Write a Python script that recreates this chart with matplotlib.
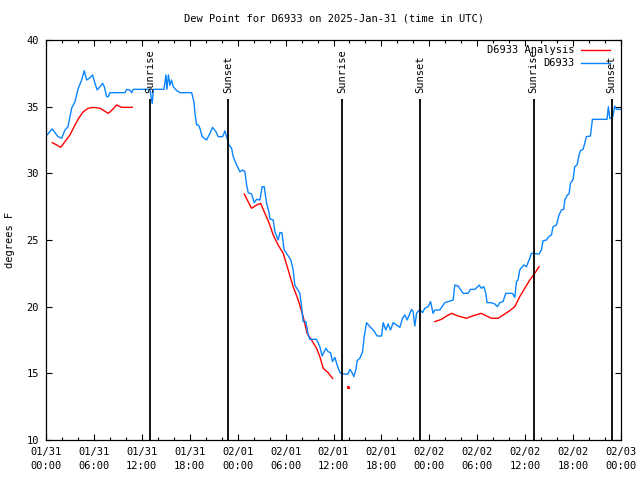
import pandas as pd
import matplotlib
matplotlib.use('Agg')
import matplotlib.pyplot as plt
import matplotlib.dates as mdates

plt.rcParams['font.family'] = ['DejaVu Sans Mono']
plt.rcParams['font.size'] = 7.5

start = pd.Timestamp('2025-01-31 00:00')

# D6933 observations (hours after 01/31 00:00 UTC, dew point F)
obs_hours = [0.13, 0.79, 1.50, 1.96, 2.38, 2.75, 3.22, 3.63, 4.04, 4.47, 4.79, 5.09, 5.42, 5.84,
             6.13, 6.42, 6.76, 7.10, 7.30, 7.60, 7.80, 8.01, 9.89, 10.10, 10.51, 10.73, 10.93,
             13.02, 13.14, 13.30, 13.45, 13.64, 14.77, 15.02, 15.14, 15.33, 15.52, 15.71, 15.93,
             16.36, 16.77, 18.24, 18.52, 18.65, 18.86, 19.06, 19.27, 19.56, 20.11, 20.53, 20.86,
             21.28, 21.56, 22.12, 22.40, 22.62, 22.90, 23.24, 23.44, 23.87, 24.28, 24.62, 24.91,
             25.12, 25.32, 25.74, 26.07, 26.37, 26.78, 27.07, 27.32, 27.62, 27.91, 28.04, 28.45,
             28.66, 29.07, 29.29, 29.54, 29.82, 30.25, 30.66, 30.95, 31.16, 31.79, 32.00, 32.20,
             32.54, 32.83, 33.04, 33.88, 34.29, 34.58, 35.04, 35.33, 35.63, 35.88, 36.17, 36.46,
             36.80, 37.13, 37.83, 38.05, 38.26, 38.55, 38.80, 38.96, 39.30, 39.64, 39.84, 40.14,
             40.55, 41.05, 41.46, 42.02, 42.22, 42.55, 42.84, 43.14, 43.47, 43.89, 44.31, 44.64,
             44.93, 45.22, 45.77, 45.97, 46.18, 46.40, 46.81, 47.15, 47.43, 47.85, 48.15, 48.47,
             48.69, 49.31, 49.65, 49.94, 50.98, 51.19, 51.60, 52.23, 52.85, 53.15, 53.69, 53.98,
             54.23, 54.53, 54.82, 55.07, 55.23, 55.78, 56.20, 56.53, 56.82, 57.23, 57.57, 58.41,
             58.70, 58.91, 59.11, 59.32, 59.66, 59.82, 60.16, 60.49, 60.79, 61.74, 62.04, 62.24,
             62.67, 62.95, 63.29, 63.49, 63.92, 64.24, 64.54, 64.83, 64.96, 65.29, 65.49, 65.67,
             66.00, 66.21, 66.50, 66.75, 66.92, 67.25, 67.46, 67.67, 68.17, 68.42, 70.25, 70.42,
             70.59, 70.80, 71.00, 71.21, 71.43, 71.71, 71.96]
obs_dewpt = [32.88, 33.33, 32.75, 32.63, 33.25, 33.50, 34.90, 35.37, 36.38, 37.00, 37.70, 37.00,
             37.13, 37.38, 36.75, 36.25, 36.50, 36.75, 36.50, 35.75, 35.75, 36.05, 36.05, 36.30,
             36.25, 36.05, 36.30, 36.30, 35.80, 35.25, 36.30, 36.30, 36.30, 37.38, 36.30, 37.38,
             36.60, 37.00, 36.50, 36.20, 36.05, 36.05, 35.37, 34.53, 33.63, 33.63, 33.38, 32.75,
             32.50, 33.00, 33.45, 33.12, 32.75, 32.75, 33.18, 32.75, 32.13, 31.88, 31.25, 30.63,
             30.12, 30.25, 30.12, 29.13, 28.55, 28.45, 27.80, 28.05, 28.00, 29.00, 29.00, 27.75,
             27.12, 26.58, 26.50, 25.62, 25.00, 25.55, 25.55, 24.25, 23.88, 23.50, 22.75, 21.62,
             21.00, 20.00, 18.88, 18.88, 17.88, 17.55, 17.55, 17.00, 16.30, 16.88, 16.62, 16.55,
             15.88, 16.20, 15.62, 15.05, 14.95, 14.95, 15.30, 15.12, 14.75, 15.25, 15.95, 16.13,
             16.62, 17.75, 18.80, 18.50, 18.20, 17.80, 17.80, 18.80, 18.25, 18.70, 18.25, 18.80,
             18.62, 18.45, 19.13, 19.38, 19.00, 19.80, 19.62, 18.55, 19.50, 19.80, 19.55, 19.88,
             20.00, 20.38, 19.50, 19.75, 19.75, 20.05, 20.30, 20.50, 21.62, 21.55, 21.00, 21.00,
             21.30, 21.30, 21.45, 21.62, 21.38, 21.50, 21.00, 20.30, 20.30, 20.20, 20.00, 20.30,
             20.38, 21.00, 21.00, 20.70, 21.88, 22.00, 22.75, 23.00, 23.13, 23.00, 23.50, 24.00,
             23.95, 24.25, 24.95, 25.00, 25.25, 25.38, 26.00, 26.13, 26.88, 27.25, 27.30, 28.00,
             28.38, 28.45, 29.25, 29.55, 30.50, 30.63, 31.38, 31.70, 31.80, 32.25, 32.75, 32.80,
             34.05, 34.05, 35.00, 34.13, 34.13, 34.30, 35.05, 34.80, 34.80, 34.80]

# D6933 Analysis, three runs plus one lone value
ana1_hours = [0.79, 1.34, 1.84, 2.38, 3.00, 3.63, 4.17, 4.67, 5.29, 5.92, 6.76, 7.30, 7.80,
              8.35, 8.85, 9.47, 10.10, 10.80]
ana1_dewpt = [32.30, 32.13, 31.95, 32.38, 32.88, 33.63, 34.20, 34.62, 34.88, 34.95, 34.88, 34.68,
              34.50, 34.80, 35.13, 34.95, 34.95, 34.95]
ana2_hours = [24.82, 25.74, 26.37, 26.87, 27.41, 27.95, 28.45, 29.07, 29.70, 30.33, 30.95, 31.58,
              32.20, 32.70, 33.25, 33.88, 34.29, 34.71, 35.33, 35.88]
ana2_dewpt = [28.45, 27.38, 27.62, 27.75, 27.00, 26.25, 25.38, 24.62, 24.00, 22.75, 21.50, 20.50,
              19.25, 18.00, 17.50, 16.88, 16.25, 15.38, 15.05, 14.62]
ana3_hours = [48.69, 49.52, 50.15, 50.78, 51.60, 52.65, 53.48, 54.53, 55.16, 55.78, 56.61, 57.45,
              58.07, 58.70, 59.32, 59.95, 60.58, 61.20, 61.74]
ana3_dewpt = [18.88, 19.05, 19.30, 19.50, 19.30, 19.13, 19.32, 19.50, 19.30, 19.13, 19.13, 19.45,
              19.70, 20.00, 20.75, 21.38, 22.00, 22.50, 23.00]
ana_dot_hours = [37.83]
ana_dot_dewpt = [13.95]

sun_times = ['2025-01-31 13:04', '2025-01-31 22:47', '2025-02-01 13:04',
             '2025-02-01 22:49', '2025-02-02 13:03', '2025-02-02 22:50']
sun_labels = ['Sunrise', 'Sunset', 'Sunrise', 'Sunset', 'Sunrise', 'Sunset']


def to_time(hours):
    return start + pd.to_timedelta(hours, unit='h')


blue = '#0a84ff'
red = '#ff0000'

fig = plt.figure(figsize=(6.4, 4.8), dpi=100)
ax = fig.add_axes([46 / 640, 40 / 480, 575 / 640, 400 / 480])

for h, v in [(ana1_hours, ana1_dewpt), (ana2_hours, ana2_dewpt), (ana3_hours, ana3_dewpt)]:
    ax.plot(to_time(h), v, color=red, lw=1.0)
ax.plot(to_time(ana_dot_hours), ana_dot_dewpt, color=red, marker='s', ms=1.2, ls='none')
ax.plot(to_time(obs_hours), obs_dewpt, color=blue, lw=1.0)

for t, lab in zip(pd.to_datetime(sun_times), sun_labels):
    ax.vlines(t, 10, 35.57, color='black', lw=1.3)
    ax.text(t, 36.05, lab, rotation=90, ha='center', va='bottom')

ax.set_xlim(start, start + pd.Timedelta(hours=72))
ax.set_ylim(10, 40)
ax.set_yticks(range(10, 41, 5))
ax.xaxis.set_major_locator(mdates.HourLocator(byhour=[0, 6, 12, 18]))
ax.xaxis.set_minor_locator(mdates.HourLocator(byhour=range(0, 24, 2)))
ax.xaxis.set_major_formatter(mdates.DateFormatter('%m/%d\n%H:%M'))
ax.tick_params(which='major', direction='in', top=True, right=True, length=4, width=0.8,
               pad=5, labelsize=7.5)
ax.tick_params(which='minor', direction='in', top=True, right=False, length=2, width=0.8)
for lbl in ax.get_xticklabels():
    lbl.set_linespacing(1.45)
for s in ax.spines.values():
    s.set_linewidth(0.9)

ax.set_title('Dew Point for D6933 on 2025-Jan-31 (time in UTC)', fontsize=7.5, pad=13)
ax.set_ylabel('degrees F', va='center')
ax.yaxis.set_label_coords(-36 / 575, 0.5)

# legend, right-aligned like the original
ax.text(0.919, 0.975, 'D6933 Analysis', transform=ax.transAxes, ha='right', va='center')
ax.plot([0.930, 0.981], [0.975, 0.975], transform=ax.transAxes, color=red, lw=1.0)
ax.text(0.919, 0.943, 'D6933', transform=ax.transAxes, ha='right', va='center')
ax.plot([0.930, 0.981], [0.943, 0.943], transform=ax.transAxes, color=blue, lw=1.0)

plt.savefig('out.png', dpi=100)
